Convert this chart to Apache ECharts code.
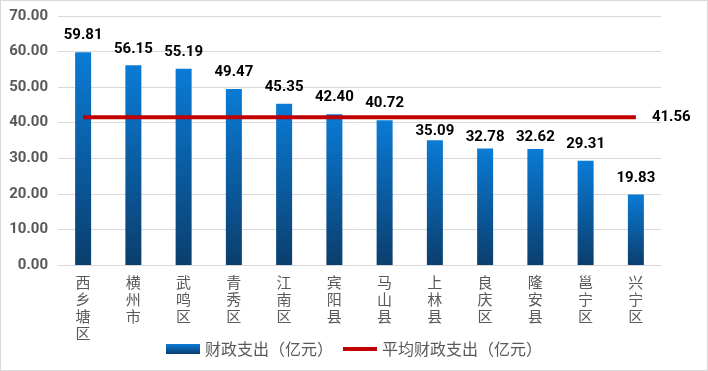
<!DOCTYPE html>
<html><head><meta charset="utf-8">
<script src="https://cdn.jsdelivr.net/npm/echarts@6/dist/echarts.min.js"></script>
<style>html,body{margin:0;padding:0;background:#fff}#c{width:708px;height:371px;box-sizing:border-box;border:1px solid #d9d9d9}</style>
</head><body><div id="c"></div>
<script>
const categories = ['西乡塘区','横州市','武鸣区','青秀区','江南区','宾阳县','马山县','上林县','良庆区','隆安县','邕宁区','兴宁区'];
const spending = [59.81,56.15,55.19,49.47,45.35,42.40,40.72,35.09,32.78,32.62,29.31,19.83];
const averageValue = 41.56;
const yTicks = [0,10,20,30,40,50,60,70];
const barName = '财政支出（亿元）';
const lineName = '平均财政支出（亿元）';

const avgData = categories.map(() => averageValue);
// labels nudged down in the original to clear the average line
const labelNudge = {'上林县':1, '良庆区':4, '隆安县':4};
const chart = echarts.init(document.getElementById('c'));
const grad = new echarts.graphic.LinearGradient(0,0,0,1,[{offset:0,color:'#0a7bd6'},{offset:1,color:'#0b3e6d'}]);
chart.setOption({
  animation:false,
  textStyle:{fontFamily:'Roboto, "Noto Sans CJK SC", sans-serif'},
  grid:{left:57,right:46,top:15,bottom:105,containLabel:false},
  legend:{
    left:'center', top:335, itemWidth:34, itemHeight:10, itemGap:10,
    textStyle:{color:'#595959',fontSize:16,fontFamily:'"Noto Sans CJK SC", sans-serif'},
    data:[{name:barName,icon:'rect'},{name:lineName,icon:'path://M0,0H34V4H0Z',itemStyle:{color:'#c00000'}}]
  },
  xAxis:{
    type:'category', data:categories,
    axisLine:{lineStyle:{color:'#d9d9d9',width:1}},
    axisTick:{show:false},
    axisLabel:{color:'#595959',fontSize:15,lineHeight:17,margin:9,interval:0,
      fontFamily:'"Noto Sans CJK SC", sans-serif',
      formatter:v=>v.split('').join('\n')}
  },
  yAxis:{
    type:'value', min:yTicks[0], max:yTicks[yTicks.length-1], interval:10,
    axisLine:{show:false}, axisTick:{show:false},
    splitLine:{lineStyle:{color:'#d9d9d9',width:1}},
    axisLabel:{color:'#595959',fontSize:15,fontWeight:'bold',margin:10,formatter:v=>v.toFixed(2)}
  },
  series:[
    {name:barName,type:'bar',barWidth:16,
     data:spending.map((v,i)=>{
       const d={value:v};
       if(labelNudge[categories[i]]!==undefined) d.label={distance:labelNudge[categories[i]]};
       return d;
     }),
     itemStyle:{color:grad},
     label:{show:true,position:'top',distance:9,color:'#000',fontWeight:'bold',fontSize:15,
       formatter:p=>p.value.toFixed(2)}},
    {name:lineName,type:'line',data:avgData,symbol:'none',z:5,
     lineStyle:{color:'#c00000',width:4},itemStyle:{color:'#c00000'},
     endLabel:{show:true,distance:16,color:'#000',fontWeight:'bold',fontSize:15,
       formatter:p=>p.value.toFixed(2)}}
  ]
});
</script></body></html>
